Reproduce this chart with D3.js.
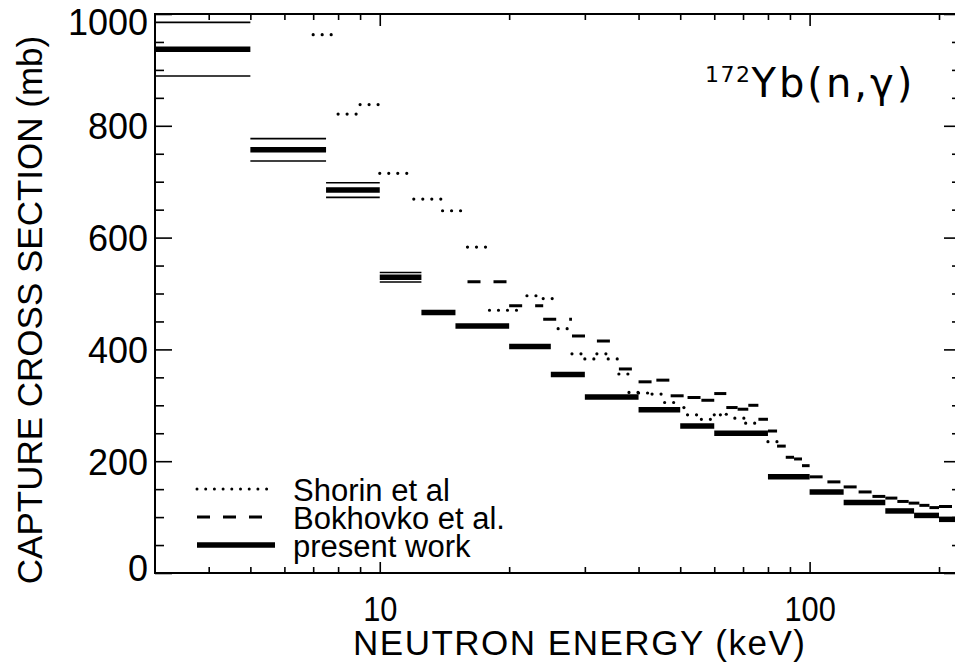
<!DOCTYPE html>
<html>
<head>
<meta charset="utf-8">
<script src="https://cdn.jsdelivr.net/npm/d3@7"></script>
<style>
  body { margin: 0; background: #fff; }
  svg { display: block; }
  text { font-family: "Liberation Sans", Arial, Helvetica, sans-serif; fill: #000; }
</style>
</head>
<body>
<svg id="main" width="955" height="664"></svg>
<script>
// present work: bin edges (keV), cross section (mb), error (mb)
const presentLo  = [3, 5, 7.5, 10, 12.5, 15, 20, 25, 30, 40, 50, 60, 80, 100, 120, 150, 175, 200];
const presentHi  = [5, 7.5, 10, 12.5, 15, 20, 25, 30, 40, 50, 60, 80, 100, 120, 150, 175, 200, 225];
const presentVal = [937, 757, 685, 529, 466, 442, 405, 355, 315, 292, 263, 250, 172, 145, 126, 111, 103, 96];
const presentErr = [48, 20, 13, 8.5, 0, 0, 0, 0, 0, 0, 0, 0, 0, 0, 0, 0, 0, 0];

// Shorin et al (dotted)
const shorinLo  = [7, 8, 9, 10, 12, 14, 16, 18, 22, 24, 26, 28, 30, 32, 34, 36, 38, 40, 43, 46, 51, 52, 56, 60, 62, 64, 67, 71, 80];
const shorinHi  = [8, 9, 10, 12, 14, 16, 18, 21, 24, 26, 28, 30, 32, 34, 36, 38, 40, 43, 46, 49, 52, 56, 60, 62, 64, 67, 71, 76, 84];
const shorinVal = [963, 821, 838, 715, 669, 648, 583, 470, 496, 491, 437, 392, 383, 392, 383, 356, 323, 322, 320, 305, 296, 283, 275, 283, 283, 284, 277, 268, 235];

// Bokhovko et al. (dashed)
const bokhLo  = [16, 20, 24, 28, 32, 36, 40, 44, 47.5, 52, 56, 60, 64, 68, 72, 76, 80, 84, 88, 92, 96, 100, 110, 120, 130, 140, 150, 160, 170, 180, 190, 200];
const bokhHi  = [20, 24, 28, 32, 36, 40, 44, 47.5, 52, 56, 60, 64, 68, 72, 76, 80, 84, 88, 92, 96, 100, 110, 120, 130, 140, 150, 160, 170, 180, 190, 200, 225];
const bokhVal = [521, 478, 454, 424, 415, 365, 342, 345, 317, 314, 309, 321, 296, 293, 300, 275, 254, 227, 207, 204, 192, 172, 163, 154, 145, 137, 134, 128, 125, 121, 117, 119];

// ticks
const xMajor = [10, 100];
const xMinor = [4, 5, 6, 7, 8, 9, 20, 30, 40, 50, 60, 70, 80, 90, 200];
const yMajor = [0, 200, 400, 600, 800, 1000];
const yMinor = d3.range(50, 1000, 50).filter(v => v % 200 !== 0);

const svg = d3.select('svg#main');

const x = d3.scaleLog().domain([3, 225]).range([155, 961]);
const y = d3.scaleLinear().domain([0, 1000]).range([573, 14]);

function bins(lo, hi, val) {
    return lo.map((d, i) => ({ lo: d, hi: hi[i], v: val[i] }));
}

// axes with inward ticks
function styleAxis(g) {
    g.select('.domain').remove();
    g.selectAll('.tick line').attr('stroke', '#000').attr('stroke-width', 1.6);
}

svg.append('g').attr('transform', `translate(${x(3)},0)`)
    .call(d3.axisLeft(y).tickValues(yMajor).tickSize(-17).tickPadding(7).tickFormat(d3.format('d')))
    .call(styleAxis)
    .call(g => g.selectAll('text')
        .attr('font-size', 36)
        .attr('dy', '0.36em')
        .attr('y', d => d === 1000 ? 8 : (d === 0 ? -5 : 0)));
svg.append('g').attr('transform', `translate(${x(3)},0)`)
    .call(d3.axisLeft(y).tickValues(yMinor).tickSize(-9).tickFormat(''))
    .call(styleAxis);
svg.append('g').attr('transform', `translate(${x(225)},0)`)
    .call(d3.axisRight(y).tickValues(yMajor).tickSize(-17).tickFormat(''))
    .call(styleAxis);
svg.append('g').attr('transform', `translate(${x(225)},0)`)
    .call(d3.axisRight(y).tickValues(yMinor).tickSize(-9).tickFormat(''))
    .call(styleAxis);

// bottom labels a little condensed, like the scan
svg.append('g').attr('transform', `translate(0,${y(0)})`)
    .call(d3.axisBottom(x).tickValues(xMajor).tickSize(-11).tickPadding(23).tickFormat(d3.format('d')))
    .call(styleAxis)
    .call(g => g.selectAll('.tick text')
        .attr('font-size', 35)
        .attr('transform', 'scale(0.88,1)'));
svg.append('g').attr('transform', `translate(0,${y(0)})`)
    .call(d3.axisBottom(x).tickValues(xMinor).tickSize(-6).tickFormat(''))
    .call(styleAxis);
svg.append('g').attr('transform', `translate(0,${y(1000)})`)
    .call(d3.axisTop(x).tickValues(xMajor).tickSize(-12).tickFormat(''))
    .call(styleAxis);
svg.append('g').attr('transform', `translate(0,${y(1000)})`)
    .call(d3.axisTop(x).tickValues(xMinor).tickSize(-6).tickFormat(''))
    .call(styleAxis);

// frame
svg.append('rect')
    .attr('x', x(3)).attr('y', y(1000))
    .attr('width', x(225) - x(3)).attr('height', y(0) - y(1000))
    .attr('fill', 'none').attr('stroke', '#000').attr('stroke-width', 2);

// error bands of present work
const errData = bins(presentLo, presentHi, presentVal).map((d, i) => ({ ...d, e: presentErr[i] })).filter(d => d.e > 0);
svg.append('g').selectAll('line')
    .data(errData.flatMap(d => [{ ...d, y: d.v + d.e }, { ...d, y: d.v - d.e }]))
    .join('line')
    .attr('x1', d => x(d.lo)).attr('x2', d => x(d.hi))
    .attr('y1', d => y(d.y)).attr('y2', d => y(d.y))
    .attr('stroke', '#000').attr('stroke-width', 1.6);

// present work
svg.append('g').selectAll('line')
    .data(bins(presentLo, presentHi, presentVal))
    .join('line')
    .attr('x1', d => x(d.lo)).attr('x2', d => x(d.hi))
    .attr('y1', d => y(d.v)).attr('y2', d => y(d.v))
    .attr('stroke', '#000').attr('stroke-width', 5.5);

// Bokhovko
svg.append('g').selectAll('line')
    .data(bins(bokhLo, bokhHi, bokhVal))
    .join('line')
    .attr('x1', d => x(d.lo)).attr('x2', d => x(d.hi))
    .attr('y1', d => y(d.v)).attr('y2', d => y(d.v))
    .attr('stroke', '#000').attr('stroke-width', 3)
    .attr('stroke-dasharray', '13 13');

// Shorin
svg.append('g').selectAll('line')
    .data(bins(shorinLo, shorinHi, shorinVal))
    .join('line')
    .attr('x1', d => x(d.lo)).attr('x2', d => x(d.hi))
    .attr('y1', d => y(d.v)).attr('y2', d => y(d.v))
    .attr('stroke', '#000').attr('stroke-width', 3.2)
    .attr('stroke-linecap', 'round')
    .attr('stroke-dasharray', '0 9');

// legend
const legendItems = [
    { label: 'Shorin et al', dash: '0 8.7', width: 3, cap: 'round' },
    { label: 'Bokhovko et al.', dash: '13 13', width: 3, cap: 'butt' },
    { label: 'present work', dash: null, width: 5.5, cap: 'butt' }
];
const legend = svg.append('g');
legendItems.forEach((d, i) => {
    const ly = 489 + i * 28;
    legend.append('line')
        .attr('x1', 197).attr('x2', 275)
        .attr('y1', ly).attr('y2', ly)
        .attr('stroke', '#000').attr('stroke-width', d.width)
        .attr('stroke-linecap', d.cap)
        .attr('stroke-dasharray', d.dash);
    legend.append('text')
        .attr('x', 293).attr('y', ly + 12)
        .attr('font-size', 31)
        .text(d.label);
});

// axis titles
svg.append('text')
    .attr('x', 579).attr('y', 655)
    .attr('text-anchor', 'middle')
    .attr('font-size', 35)
    .attr('textLength', 452)
    .text('NEUTRON ENERGY (keV)');
svg.append('text')
    .attr('transform', 'translate(42,310) rotate(-90)')
    .attr('text-anchor', 'middle')
    .attr('font-size', 35)
    .text('CAPTURE CROSS SECTION (mb)');

// reaction label
const react = svg.append('text')
    .attr('x', 705).attr('y', 97)
    .style('font-family', '"DejaVu Sans", sans-serif');
react.append('tspan').attr('font-size', 22).attr('dy', -15).attr('letter-spacing', 1.5).text('172');
react.append('tspan').attr('font-size', 40).attr('dy', 15).attr('letter-spacing', 3).text('Yb(n,γ)');
</script>
</body>
</html>
